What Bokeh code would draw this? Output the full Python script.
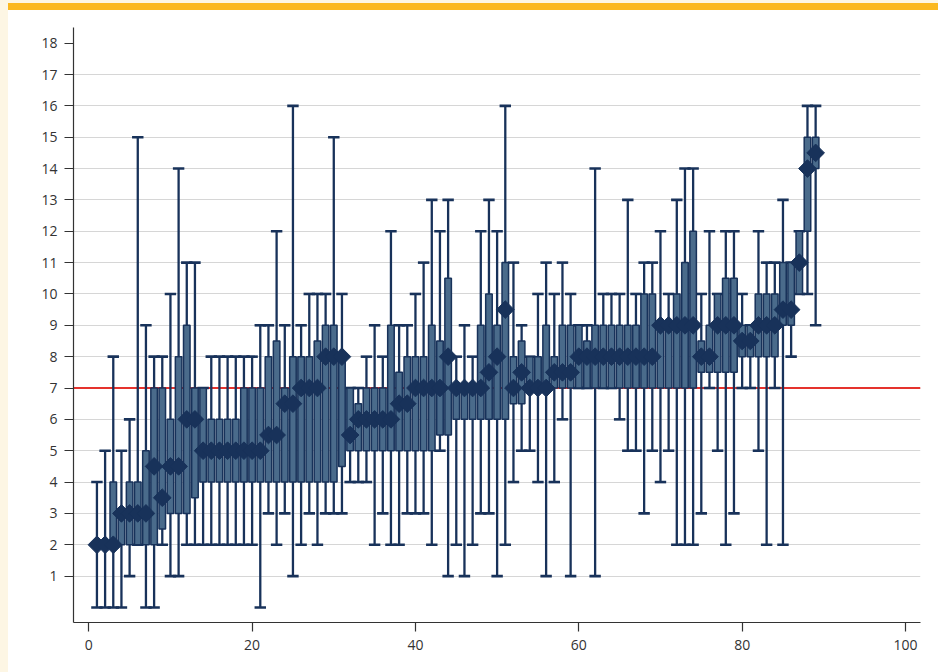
import numpy as np
from bokeh.plotting import figure
from bokeh.models import Range1d, Span, FixedTicker, Div, ColumnDataSource
from bokeh.layouts import column, row
from bokeh.embed import file_html
from bokeh.resources import INLINE

# ---- data ----
idx = list(range(1, 90))
mins = [0, 0, 0, 0, 1, 2, 0, 0, 2, 1, 1, 2, 2, 2, 2, 2, 2, 2, 2, 2,
        0, 3, 2, 3, 1, 2, 3, 2, 3, 3, 3, 4, 4, 4, 2, 3, 2, 2, 3, 3,
        3, 2, 5, 1, 2, 1, 2, 3, 3, 1, 2, 4, 5, 5, 4, 1, 4, 6, 1, 7,
        7, 1, 7, 7, 6, 5, 5, 3, 5, 4, 5, 2, 2, 2, 3, 7, 5, 2, 3, 7,
        7, 5, 2, 7, 2, 8, 10, 10, 9]
q1s = [2, 2, 2, 2, 2, 2, 2, 2, 2.5, 3, 3, 3, 3.5, 4, 4, 4, 4, 4, 4, 4,
       4, 4, 4, 4, 4, 4, 4, 4, 4, 4, 4.5, 5, 5, 5, 5, 5, 5, 5, 5, 5,
       5, 5, 5.5, 5.5, 6, 6, 6, 6, 6, 6, 6, 6.5, 6.5, 7, 7, 7, 7, 7, 7, 7,
       7, 7, 7, 7, 7, 7, 7, 7, 7, 7, 7, 7, 7, 7, 7.5, 7.5, 7.5, 7.5, 7.5, 8,
       8, 8, 8, 8, 9, 9, 10, 12, 14]
meds = [2, 2, 2, 3, 3, 3, 3, 4.5, 3.5, 4.5, 4.5, 6, 6, 5, 5, 5, 5, 5, 5, 5,
        5, 5.5, 5.5, 6.5, 6.5, 7, 7, 7, 8, 8, 8, 5.5, 6, 6, 6, 6, 6, 6.5, 6.5, 7,
        7, 7, 7, 8, 7, 7, 7, 7, 7.5, 8, 9.5, 7, 7.5, 7, 7, 7, 7.5, 7.5, 7.5, 8,
        8, 8, 8, 8, 8, 8, 8, 8, 8, 9, 9, 9, 9, 9, 8, 8, 9, 9, 9, 8.5,
        8.5, 9, 9, 9, 9.5, 9.5, 11, 14, 14.5]
q3s = [2, 2, 4, 3, 4, 4, 5, 7, 7, 6, 8, 9, 7, 7, 6, 6, 6, 6, 7, 7,
       7, 8, 8.5, 7, 8, 8, 8, 8.5, 9, 9, 8, 7, 6.5, 7, 7, 7, 9, 7.5, 8, 8,
       8, 9, 8.5, 10.5, 7, 7, 7, 9, 10, 9, 11, 8, 8.5, 8, 8, 9, 8, 9, 9, 9,
       8.5, 9, 9, 9, 9, 9, 9, 10, 10, 9, 9, 10, 11, 12, 8.5, 9, 10, 10.5, 10.5, 9,
       9, 10, 10, 10, 11, 11, 12, 15, 15]
maxs = [4, 5, 8, 5, 6, 15, 9, 8, 8, 10, 14, 11, 11, 7, 8, 8, 8, 8, 8, 8,
        9, 9, 12, 9, 16, 9, 10, 10, 10, 15, 10, 7, 7, 8, 9, 8, 12, 9, 9, 10,
        11, 13, 12, 13, 8, 9, 8, 12, 13, 12, 16, 11, 9, 8, 10, 11, 10, 11, 10, 9,
        9, 14, 10, 10, 10, 13, 10, 11, 11, 12, 10, 13, 14, 14, 10, 12, 10, 12, 12, 10,
        9, 12, 11, 11, 13, 11, 12, 16, 16]
target = 7
x_ticks = [0, 20, 40, 60, 80, 100]
y_ticks = list(range(1, 19))

NAVY = "#18325a"
FILL = "#4a6b8b"
CREAM = "#fdf6e4"

src = ColumnDataSource(dict(
    x=idx, lo=mins, q1=q1s, med=meds, q3=q3s, hi=maxs,
    xl=[v - 0.7 for v in idx], xr=[v + 0.7 for v in idx],
))

p = figure(width=930, height=660,
           x_range=Range1d(-1.87, 101.84), y_range=Range1d(-0.48, 18.5),
           output_backend="svg", toolbar_location=None,
           min_border_left=65, min_border_right=18,
           min_border_top=17, min_border_bottom=48, margin=0)
p.outline_line_color = None
p.background_fill_color = "white"
p.border_fill_color = "white"

p.xgrid.visible = False
p.ygrid.ticker = FixedTicker(ticks=list(range(1, 18)))
p.ygrid.grid_line_color = "#d6d6d6"
p.ygrid.grid_line_width = 1.2

p.add_layout(Span(location=target, dimension="width", line_color="#e5322d",
                  line_width=2, level="underlay"))

# whiskers and caps
p.segment(x0="x", y0="lo", x1="x", y1="hi", source=src, line_color=NAVY, line_width=2.3)
p.segment(x0="xl", y0="hi", x1="xr", y1="hi", source=src, line_color=NAVY, line_width=2.6)
p.segment(x0="xl", y0="lo", x1="xr", y1="lo", source=src, line_color=NAVY, line_width=2.6)
# boxes
p.vbar(x="x", width=0.8, bottom="q1", top="q3", source=src,
       fill_color=FILL, line_color=NAVY, line_width=1.5)
# medians
p.scatter(x="x", y="med", source=src, marker="square", angle=np.pi / 4,
          size=12.5, fill_color=NAVY, line_color=NAVY)

for ax, tk in ((p.xaxis, x_ticks), (p.yaxis, y_ticks)):
    ax.ticker = FixedTicker(ticks=tk)
    ax.axis_line_color = "#333333"
    ax.axis_line_width = 1.2
    ax.major_tick_line_color = "#333333"
    ax.major_tick_line_width = 1.2
    ax.major_tick_out = 9
    ax.major_tick_in = 0
    ax.minor_tick_line_color = None
    ax.major_label_text_font = "Open Sans"
    ax.major_label_text_font_size = "14px"
    ax.major_label_text_color = "#333333"
p.yaxis.major_label_standoff = 7
p.xaxis.major_label_standoff = 8

left_strip = Div(text="", width=8, height=672, margin=0,
                 styles={"background-color": CREAM})
top_strip = Div(text="", width=930, height=3, margin=0,
                styles={"background-color": CREAM})
bar = Div(text="", width=930, height=7, margin=0,
          styles={"background-color": "#fbb820"})
layout = row(left_strip, column(top_strip, bar, p, spacing=0, margin=0),
             spacing=0, margin=0)

open("out.html", "w").write(file_html(layout, INLINE))
